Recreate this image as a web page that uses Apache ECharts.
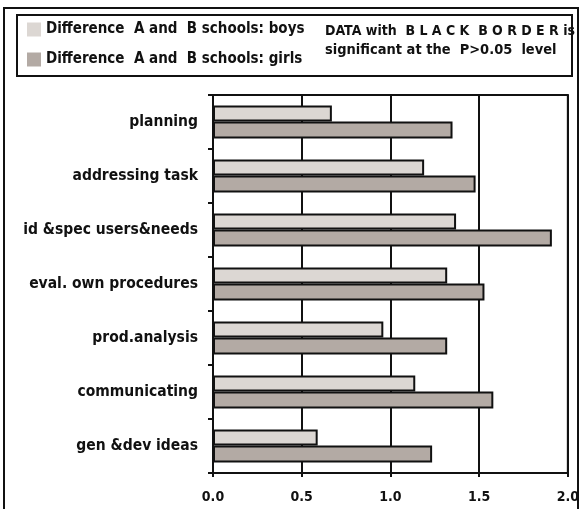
<!DOCTYPE html>
<html>
<head>
<meta charset="utf-8">
<script src="https://cdn.jsdelivr.net/npm/echarts@6/dist/echarts.min.js"></script>
<style>
html,body{margin:0;padding:0;background:#fff;}
#c{width:582px;height:509px;}
</style>
</head>
<body>
<div id="c"></div>
<script>
const categories = ['planning','addressing task','id &spec users&needs','eval. own procedures','prod.analysis','communicating','gen &dev ideas'];
const boys  = [0.67, 1.19, 1.37, 1.32, 0.96, 1.14, 0.59];
const girls = [1.35, 1.48, 1.91, 1.53, 1.32, 1.58, 1.235];
const xTicks = ['0.0','0.5','1.0','1.5','2.0'];
const seriesNames = ['Difference  A and  B schools: boys','Difference  A and  B schools: girls'];
const noteLines = ['DATA with  B L A C K  B O R D E R is','significant at the  P>0.05  level'];

const FONT = '"DejaVu Sans Condensed", "DejaVu Sans", sans-serif';
const chart = echarts.init(document.getElementById('c'), null, {renderer:'canvas'});
chart.setOption({
  animation:false,
  backgroundColor:'#ffffff',
  grid:{left:213, right:13, top:95, bottom:36, show:true, borderColor:'#111', borderWidth:2, backgroundColor:'transparent'},
  legend:{
    orient:'vertical', left:22, top:17, itemWidth:14, itemHeight:14, itemGap:15,
    icon:'rect',
    itemStyle:{borderWidth:0},
    textStyle:{fontFamily:FONT, fontSize:15, fontWeight:'bold', color:'#111'},
    data:seriesNames
  },
  graphic:[
    {type:'rect', shape:{x:4, y:8, width:574, height:520}, style:{fill:'none', stroke:'#111', lineWidth:2}, silent:true},
    {type:'rect', shape:{x:17, y:15, width:555, height:61}, style:{fill:'none', stroke:'#111', lineWidth:2}, silent:true},
    {type:'text', left:325, top:24, style:{text:noteLines[0], font:'bold 14px ' + FONT, fill:'#111'}},
    {type:'text', left:325, top:43, style:{text:noteLines[1], font:'bold 14.5px ' + FONT, fill:'#111'}}
  ],
  xAxis:{
    type:'value', min:0, max:2, interval:0.5,
    axisLine:{show:true, lineStyle:{color:'#111', width:2}},
    axisTick:{show:true, length:4, lineStyle:{color:'#111', width:2}},
    splitLine:{show:true, lineStyle:{color:'#111', width:2}},
    axisLabel:{margin:17, fontFamily:FONT, fontSize:14, fontWeight:'bold', color:'#111',
      formatter:function(v){ return xTicks[Math.round(v/0.5)]; }}
  },
  yAxis:{
    type:'category', data:categories, inverse:true,
    axisLine:{show:true, lineStyle:{color:'#111', width:2}},
    axisTick:{show:true, length:5, inside:false, lineStyle:{color:'#111', width:2}},
    axisLabel:{margin:15, fontFamily:FONT, fontSize:15.5, fontWeight:'bold', color:'#111'}
  },
  series:[
    {name:seriesNames[0], type:'bar', data:boys, barWidth:16, barGap:'0%', barCategoryGap:'38%',
      itemStyle:{color:'#dcd7d3', borderColor:'#111', borderWidth:2}},
    {name:seriesNames[1], type:'bar', data:girls, barWidth:17, barGap:'0%',
      itemStyle:{color:'#b3aaa4', borderColor:'#111', borderWidth:2}}
  ]
});
</script>
</body>
</html>
